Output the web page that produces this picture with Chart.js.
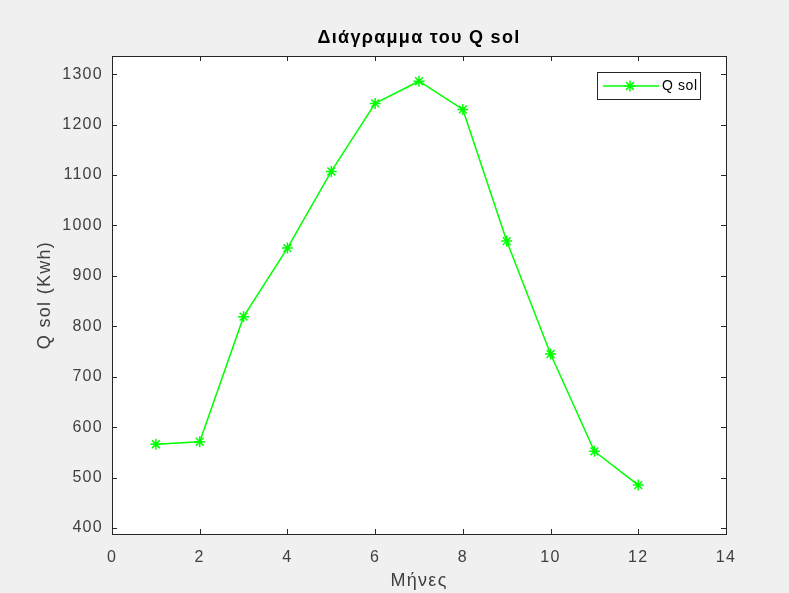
<!DOCTYPE html>
<html>
<head>
<meta charset="utf-8">
<script src="https://cdn.jsdelivr.net/npm/chart.js@4"></script>
<style>
html,body{margin:0;padding:0;background:#f0f0f0;}
canvas{display:block;}
</style>
</head>
<body>
<canvas id="c" width="789" height="593"></canvas>
<script>
const months = [1, 2, 3, 4, 5, 6, 7, 8, 9, 10, 11, 12];
const qsol = [566, 571, 819, 955, 1107, 1242, 1286, 1230, 969, 745, 552, 485];
const xTicks = [0, 2, 4, 6, 8, 10, 12, 14];
const yTicks = [400, 500, 600, 700, 800, 900, 1000, 1100, 1200, 1300];
const seriesName = 'Q sol';
const titleText = 'Διάγραμμα του Q sol';
const xLabel = 'Μήνες';
const yLabel = 'Q sol (Kwh)';

const FONT = '"Liberation Sans", Arial, Helvetica, sans-serif';
const AXIS_COLOR = '#262626';
const TEXT_COLOR = '#404040';
const GREEN = '#00ff00';
const SPACING = '1.3px';

const matlabPlugin = {
  id: 'matlab',
  beforeUpdate(chart) { chart.ctx.letterSpacing = SPACING; },
  beforeLayout(chart) { chart.ctx.letterSpacing = SPACING; },
  beforeDraw(chart) {
    const {ctx, chartArea: a} = chart;
    ctx.letterSpacing = SPACING;
    ctx.save();
    ctx.fillStyle = '#f0f0f0';
    ctx.fillRect(0, 0, chart.width, chart.height);
    ctx.fillStyle = '#ffffff';
    ctx.fillRect(a.left, a.top, a.right - a.left, a.bottom - a.top);
    ctx.restore();
  },
  afterDraw(chart) {
    const {ctx, chartArea: a, scales} = chart;
    const tl = 5;
    ctx.save();
    ctx.strokeStyle = AXIS_COLOR;
    ctx.lineWidth = 1;
    ctx.beginPath();
    scales.x.ticks.forEach(t => {
      const px = Math.round(scales.x.getPixelForValue(t.value)) + 0.5;
      ctx.moveTo(px, a.bottom); ctx.lineTo(px, a.bottom - tl);
      ctx.moveTo(px, a.top); ctx.lineTo(px, a.top + tl);
    });
    scales.y.ticks.forEach(t => {
      const py = Math.round(scales.y.getPixelForValue(t.value)) + 0.5;
      ctx.moveTo(a.left, py); ctx.lineTo(a.left + tl, py);
      ctx.moveTo(a.right, py); ctx.lineTo(a.right - tl, py);
    });
    ctx.stroke();
    ctx.strokeRect(Math.round(a.left) + 0.5, Math.round(a.top) + 0.5,
                   Math.round(a.right - a.left), Math.round(a.bottom - a.top));

    // legend
    const lx = 597, ly = 72, lw = 103, lh = 27;
    ctx.fillStyle = '#ffffff';
    ctx.fillRect(lx, ly, lw, lh);
    ctx.strokeStyle = AXIS_COLOR;
    ctx.strokeRect(lx + 0.5, ly + 0.5, lw, lh);
    const cy = ly + 14;
    ctx.strokeStyle = GREEN;
    ctx.lineWidth = 1.5;
    ctx.beginPath();
    ctx.moveTo(lx + 6, cy); ctx.lineTo(lx + 62, cy);
    ctx.stroke();
    const ds = chart.data.datasets[0];
    Chart.helpers.drawPoint(ctx, {pointStyle: 'star', radius: 5.5, borderWidth: 1.5}, lx + 33, cy);
    ctx.fillStyle = '#000000';
    ctx.letterSpacing = '0.6px';
    ctx.font = '14px ' + FONT;
    ctx.textBaseline = 'middle';
    ctx.textAlign = 'left';
    ctx.fillText(ds.label, lx + 65, cy);
    ctx.restore();
  }
};

new Chart(document.getElementById('c'), {
  type: 'line',
  data: {
    datasets: [{
      label: seriesName,
      data: months.map((m, i) => ({x: m, y: qsol[i]})),
      borderColor: GREEN,
      backgroundColor: GREEN,
      borderWidth: 1.5,
      pointStyle: 'star',
      pointRadius: 5.5,
      pointBorderWidth: 1.5,
      pointBorderColor: GREEN,
      tension: 0,
      fill: false
    }]
  },
  options: {
    responsive: false,
    animation: false,
    devicePixelRatio: 1,
    layout: {padding: {left: 0, right: 63, top: 0, bottom: 0}},
    plugins: {
      legend: {display: false},
      tooltip: {enabled: false},
      title: {
        display: true,
        fullSize: false,
        text: titleText,
        color: '#000000',
        font: {family: FONT, size: 18, weight: 'bold', lineHeight: 1.2},
        padding: {top: 27, bottom: 7.4}
      }
    },
    scales: {
      x: {
        type: 'linear',
        min: 0, max: 14,
        afterBuildTicks(s) { s.ticks = xTicks.map(v => ({value: v})); },
        afterFit(s) { s.height = 59; },
        grid: {display: false, drawTicks: false},
        border: {display: false},
        ticks: {color: TEXT_COLOR, font: {family: FONT, size: 16}, padding: 14, maxRotation: 0,
                callback: v => String(v)},
        title: {display: true, text: xLabel, color: TEXT_COLOR,
                font: {family: FONT, size: 18}, padding: {top: 0, bottom: 1}}
      },
      y: {
        type: 'linear',
        min: 388, max: 1336,
        afterBuildTicks(s) { s.ticks = yTicks.map(v => ({value: v})); },
        afterFit(s) { s.width = 112; },
        grid: {display: false, drawTicks: false},
        border: {display: false},
        ticks: {color: TEXT_COLOR, font: {family: FONT, size: 16}, padding: 9,
                callback: v => String(v)},
        title: {display: true, text: yLabel, color: TEXT_COLOR,
                font: {family: FONT, size: 18}, padding: {top: 34, bottom: 0}}
      }
    }
  },
  plugins: [matlabPlugin]
});
</script>
</body>
</html>
